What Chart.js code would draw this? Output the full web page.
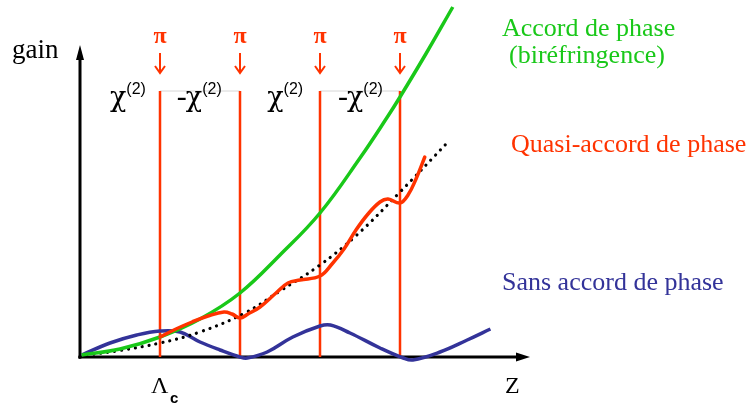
<!DOCTYPE html>
<html>
<head>
<meta charset="utf-8">
<script src="https://cdn.jsdelivr.net/npm/chart.js@4/dist/chart.umd.min.js"></script>
<style>
  html, body { margin: 0; padding: 0; background: #ffffff; }
  canvas { display: block; }
</style>
</head>
<body>
<canvas id="c" width="747" height="406"></canvas>
<script>
// ---- data (z in units of coherence length, gain in arbitrary units) ----
const zPM      = [0.02, 0.5, 1, 1.5, 2, 2.5, 3, 3.5, 3.85, 4, 4.33, 4.66];
const gainPM   = [0.2, 0.8, 2.0, 3.8, 6.4, 10.2, 14.4, 19.9, 24.1, 26.0, 30.4, 35.0];

const zQPM     = [1, 1.2, 1.4, 1.6, 1.8, 1.9, 2, 2.1, 2.25, 2.45, 2.6, 2.75, 3, 3.15, 3.3, 3.45, 3.6, 3.75, 3.85, 4, 4.1, 4.2, 4.31];
const gainQPM  = [2.0, 2.8, 3.5, 4.1, 4.5, 4.3, 3.9, 4.3, 5.0, 6.4, 7.4, 7.7, 8.1, 9.3, 10.8, 12.7, 14.3, 15.5, 15.8, 15.4, 16.2, 17.8, 20.0];

const zAvg     = [0, 0.1, 0.5, 1, 1.5, 2.06, 2.5, 3, 3.46, 4, 4.6];
const gainAvg  = [0, 0.2, 0.65, 1.4, 2.5, 4.4, 6.6, 9.2, 12.2, 16.5, 21.5];

const zNoPM    = [0.02, 0.375, 0.71, 1, 1.25, 1.5, 1.75, 2, 2.09, 2.34, 2.66, 3, 3.13, 3.375, 3.75, 4.04, 4.16, 4.5, 4.84, 5.13];
const gainNoPM = [0.2, 1.4, 2.2, 2.6, 2.5, 1.5, 0.7, 0, -0.1, 0.5, 2.0, 3.1, 3.2, 2.4, 0.9, -0.1, -0.3, 0.5, 1.7, 2.8];

const inversions   = [1, 2, 3, 4];        // positions of the π phase flips
const domainTop    = 26.6;                // height of the domain walls
const domainSigns  = ['', '-', '', '-'];  // sign of χ(2) in each domain
const seriesLabels = ['Accord de phase', '(biréfringence)', 'Quasi-accord de phase', 'Sans accord de phase'];
const axisLabels   = ['gain', 'Z', 'Λ', 'c'];

const pts = (xs, ys) => xs.map((x, i) => ({ x: x, y: ys[i] }));

const RED = '#ff3300', GREEN = '#19c819', BLUE = '#333399';

const datasets = [];
inversions.forEach(z => {
  datasets.push({ data: [{ x: z, y: 0 }, { x: z, y: domainTop }], borderColor: RED, borderWidth: 2.5, order: 10, tension: 0 });
});
for (let i = 0; i < inversions.length; i += 2) {
  datasets.push({ data: [{ x: inversions[i], y: domainTop }, { x: inversions[i + 1], y: domainTop }], borderColor: '#d6d6d6', borderWidth: 1, order: 11, tension: 0 });
}
datasets.push({ data: pts(zNoPM, gainNoPM), borderColor: BLUE, borderWidth: 3.5, order: 5, tension: 0.4 });
datasets.push({ data: pts(zAvg, gainAvg), borderColor: '#000', borderWidth: 3.2, borderDash: [0.01, 7], borderCapStyle: 'round', order: 4, tension: 0.4 });
datasets.push({ data: pts(zPM, gainPM), borderColor: GREEN, borderWidth: 3.5, order: 3, tension: 0.4 });
datasets.push({ data: pts(zQPM, gainQPM), borderColor: RED, borderWidth: 3.5, order: 2, tension: 0.4, borderCapStyle: 'round' });
datasets.forEach(d => { d.showLine = true; d.pointRadius = 0; d.clip = false; d.fill = false; });

const decor = {
  id: 'decor',
  beforeDatasetsDraw(chart) {
    const ctx = chart.ctx, xs = chart.scales.x, ys = chart.scales.y;
    const x0 = xs.getPixelForValue(0), y0 = ys.getPixelForValue(0);
    const yTop = ys.getPixelForValue(31.2), xEnd = xs.getPixelForValue(xs.max);
    ctx.save();
    ctx.strokeStyle = '#000'; ctx.fillStyle = '#000'; ctx.lineWidth = 3;
    ctx.beginPath(); ctx.moveTo(x0, y0 + 1.5); ctx.lineTo(x0, yTop + 10); ctx.stroke();
    ctx.beginPath(); ctx.moveTo(x0, yTop); ctx.lineTo(x0 - 4, yTop + 15); ctx.lineTo(x0 + 4, yTop + 15); ctx.closePath(); ctx.fill();
    ctx.beginPath(); ctx.moveTo(x0 - 1.5, y0); ctx.lineTo(xEnd - 10, y0); ctx.stroke();
    ctx.beginPath(); ctx.moveTo(xEnd, y0); ctx.lineTo(xEnd - 14, y0 - 4.5); ctx.lineTo(xEnd - 14, y0 + 4.5); ctx.closePath(); ctx.fill();
    ctx.restore();
  },
  afterDraw(chart) {
    const ctx = chart.ctx, xs = chart.scales.x, ys = chart.scales.y;
    ctx.save();
    ctx.textBaseline = 'alphabetic';
    // π markers with arrows
    inversions.forEach(z => {
      const px = xs.getPixelForValue(z);
      ctx.fillStyle = RED; ctx.strokeStyle = RED;
      ctx.font = 'bold 24px "Liberation Serif"'; ctx.textAlign = 'center';
      ctx.fillText('π', px, 43);
      ctx.lineWidth = 2;
      ctx.beginPath(); ctx.moveTo(px, 53); ctx.lineTo(px, 73); ctx.stroke();
      ctx.beginPath(); ctx.moveTo(px - 5, 66); ctx.lineTo(px, 73); ctx.lineTo(px + 5, 66); ctx.stroke();
    });
    // χ(2) domain labels
    const labelStart = [0.375, 1.21, 2.34, 3.225];
    domainSigns.forEach((s, i) => {
      let px = xs.getPixelForValue(labelStart[i]);
      ctx.fillStyle = '#000'; ctx.textAlign = 'left';
      if (s) { ctx.font = '30px "Liberation Serif"'; ctx.fillText(s, px, 106); px += ctx.measureText(s).width - 1; }
      ctx.font = '27px "DejaVu Serif"';
      ctx.fillText('χ', px, 106);
      px += ctx.measureText('χ').width;
      ctx.font = '16px "Liberation Sans"';
      ctx.fillText('(2)', px, 94);
    });
    // axis labels
    ctx.fillStyle = '#000'; ctx.textAlign = 'left';
    ctx.font = '27px "Liberation Serif"';
    ctx.fillText(axisLabels[0], 12, 58);
    ctx.font = '24px "Liberation Serif"';
    ctx.fillText(axisLabels[1], 505, 393);
    ctx.fillText(axisLabels[2], 151, 393);
    ctx.font = 'bold 15px "Liberation Sans"';
    ctx.fillText(axisLabels[3], 170, 403);
    // series labels
    ctx.font = '26px "Liberation Serif"';
    ctx.fillStyle = GREEN;
    ctx.fillText(seriesLabels[0], 502, 36);
    ctx.fillText(seriesLabels[1], 509, 63);
    ctx.fillStyle = RED;
    ctx.fillText(seriesLabels[2], 511, 152);
    ctx.fillStyle = BLUE;
    ctx.fillText(seriesLabels[3], 502, 290);
    ctx.restore();
  }
};

new Chart(document.getElementById('c'), {
  type: 'scatter',
  data: { datasets: datasets },
  options: {
    responsive: false,
    animation: false,
    devicePixelRatio: 1,
    layout: { padding: { left: 80, right: 217, top: 7, bottom: 49 } },
    scales: {
      x: { type: 'linear', min: 0, max: 5.625, display: false },
      y: { type: 'linear', min: 0, max: 35, display: false }
    },
    plugins: { legend: { display: false }, tooltip: { enabled: false } },
    events: []
  },
  plugins: [decor]
});
</script>
</body>
</html>
